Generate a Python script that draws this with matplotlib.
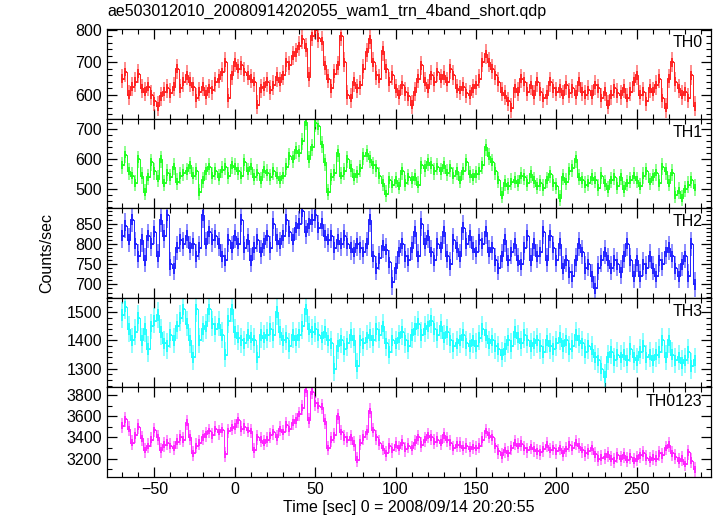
import numpy as np
import matplotlib
matplotlib.use('Agg')
import matplotlib.pyplot as plt
from matplotlib.ticker import MultipleLocator

plt.rcParams['font.family'] = ['Liberation Sans', 'DejaVu Sans']

# 2 s bins starting at t = -70 s
T0, DT = -70.0, 2.0

th0 = [650, 670, 600, 625, 640, 665, 620, 610, 625, 600, 580, 565, 595, 610, 620,
       605, 625, 680, 620, 640, 660, 640, 625, 590, 610, 625, 600, 620, 615, 640,
       650, 670, 700, 590, 660, 700, 680, 690, 670, 660, 650, 640, 570, 620, 625,
       640, 615, 630, 655, 640, 660, 700, 690, 720, 730, 750, 770, 745, 655, 780,
       800, 775, 765, 690, 650, 620, 665, 690, 780, 700, 600, 590, 640, 620, 630,
       680, 730, 770, 700, 660, 650, 735, 680, 640, 660, 620, 600, 630, 610, 595,
       570, 610, 650, 690, 640, 620, 660, 640, 670, 650, 660, 640, 680, 660, 620,
       615, 625, 605, 600, 620, 630, 650, 700, 725, 700, 680, 660, 640, 610, 600,
       580, 560, 620, 610, 650, 640, 610, 630, 600, 640, 610, 590, 600, 640, 620,
       610, 620, 600, 630, 605, 620, 600, 640, 610, 600, 615, 600, 630, 620, 590,
       610, 570, 600, 620, 605, 600, 620, 590, 610, 640, 660, 600, 610, 580, 620,
       610, 630, 650, 590, 560, 650, 700, 640, 620, 600, 610, 590, 660, 565]

th1 = [580, 615, 560, 545, 520, 600, 545, 490, 540, 590, 560, 535, 600, 520, 555,
       540, 575, 525, 545, 555, 560, 580, 545, 560, 490, 530, 560, 575, 545, 560,
       540, 565, 575, 545, 580, 575, 560, 545, 590, 560, 575, 540, 555, 530, 565,
       555, 540, 560, 545, 530, 545, 575, 610, 600, 630, 620, 660, 725, 600, 640,
       720, 710, 650, 590, 490, 540, 555, 620, 545, 560, 600, 570, 540, 550, 570,
       610, 620, 600, 580, 570, 545, 520, 485, 530, 515, 530, 510, 560, 520, 540,
       530, 540, 515, 580, 570, 590, 580, 560, 575, 560, 580, 555, 570, 545, 560,
       530, 560, 590, 550, 540, 550, 560, 580, 640, 610, 590, 560, 530, 480, 520,
       510, 525, 530, 520, 545, 540, 520, 550, 530, 510, 520, 505, 530, 550, 520,
       510, 470, 540, 525, 560, 570, 600, 540, 530, 515, 520, 540, 530, 505, 545,
       520, 500, 530, 540, 510, 540, 500, 520, 530, 545, 530, 510, 545, 560, 525,
       540, 555, 520, 575, 560, 520, 555, 480, 495, 470, 500, 515, 530, 505]

th2 = [820, 845, 810, 860, 800, 770, 810, 760, 820, 800, 830, 770, 860, 820, 870,
       750, 740, 790, 810, 800, 820, 790, 800, 770, 790, 870, 800, 830, 810, 820,
       800, 770, 760, 810, 790, 820, 800, 860, 790, 810, 760, 790, 810, 780, 800,
       820, 790, 850, 810, 800, 820, 860, 830, 810, 840, 850, 880, 830, 850, 860,
       870, 840, 850, 820, 810, 820, 790, 810, 800, 820, 800, 790, 780, 800, 790,
       780, 800, 860, 770, 740, 765, 795, 785, 755, 705, 740, 780, 800, 770, 760,
       790, 830, 770, 850, 800, 820, 780, 760, 800, 790, 830, 770, 750, 810, 790,
       770, 840, 800, 820, 790, 780, 810, 800, 830, 780, 790, 760, 740, 770, 810,
       760, 780, 800, 760, 750, 790, 820, 760, 800, 770, 780, 830, 760, 820, 790,
       760, 800, 740, 760, 730, 720, 760, 800, 780, 740, 750, 720, 690, 740, 760,
       780, 760, 740, 760, 750, 730, 770, 800, 760, 720, 760, 720, 750, 740, 770,
       740, 720, 760, 750, 780, 790, 770, 740, 720, 750, 770, 720, 800, 700]

th3 = [1490, 1520, 1440, 1400, 1430, 1480, 1400, 1440, 1370, 1450, 1470, 1490, 1430, 1390, 1380,
       1420, 1400, 1450, 1480, 1510, 1460, 1400, 1340, 1510, 1400, 1440, 1450, 1510, 1460, 1440,
       1460, 1420, 1350, 1470, 1510, 1430, 1410, 1400, 1390, 1420, 1410, 1400, 1340, 1420, 1410,
       1420, 1440, 1420, 1500, 1430, 1400, 1410, 1380, 1420, 1400, 1420, 1450, 1510, 1440, 1430,
       1440, 1420, 1410, 1430, 1400, 1390, 1300, 1380, 1400, 1370, 1390, 1420, 1400, 1310, 1400,
       1390, 1410, 1420, 1400, 1440, 1420, 1450, 1390, 1360, 1400, 1390, 1410, 1430, 1400, 1380,
       1420, 1440, 1460, 1420, 1440, 1450, 1470, 1440, 1420, 1450, 1410, 1430, 1400, 1380, 1390,
       1400, 1420, 1390, 1380, 1400, 1380, 1410, 1440, 1420, 1390, 1400, 1380, 1370, 1350, 1370,
       1400, 1380, 1430, 1410, 1390, 1420, 1400, 1380, 1390, 1400, 1380, 1360, 1400, 1380, 1370,
       1390, 1410, 1380, 1400, 1370, 1380, 1420, 1400, 1390, 1360, 1380, 1370, 1340, 1330, 1300,
       1270, 1340, 1360, 1330, 1350, 1340, 1350, 1330, 1370, 1340, 1330, 1360, 1380, 1340, 1350,
       1330, 1350, 1360, 1400, 1340, 1400, 1350, 1330, 1340, 1320, 1330, 1360, 1310, 1330]

th0123 = [3510, 3570, 3480, 3350, 3420, 3500, 3390, 3280, 3320, 3380, 3470, 3400, 3280, 3330, 3350,
          3320, 3300, 3360, 3400, 3380, 3540, 3400, 3250, 3320, 3350, 3400, 3430, 3460, 3420, 3480,
          3450, 3470, 3240, 3460, 3490, 3500, 3560, 3480, 3500, 3470, 3460, 3280, 3400, 3380, 3350,
          3380, 3420, 3450, 3400, 3480, 3450, 3520, 3480, 3540, 3560, 3620, 3680, 3850, 3560, 3830,
          3720, 3700, 3690, 3550, 3300, 3380, 3420, 3600, 3450, 3400, 3380, 3400, 3340, 3190, 3350,
          3400, 3450, 3650, 3470, 3400, 3350, 3300, 3250, 3320, 3280, 3330, 3300, 3350, 3290, 3320,
          3300, 3350, 3400, 3330, 3380, 3420, 3400, 3360, 3380, 3350, 3420, 3380, 3350, 3300, 3330,
          3330, 3300, 3320, 3290, 3310, 3300, 3320, 3380, 3460, 3420, 3400, 3320, 3270, 3230, 3280,
          3250, 3300, 3350, 3320, 3340, 3300, 3280, 3310, 3290, 3270, 3260, 3290, 3330, 3280, 3300,
          3270, 3300, 3250, 3290, 3330, 3300, 3350, 3320, 3280, 3250, 3270, 3300, 3240, 3200, 3210,
          3220, 3240, 3200, 3180, 3230, 3200, 3230, 3190, 3220, 3180, 3200, 3230, 3250, 3210, 3190,
          3210, 3200, 3250, 3230, 3300, 3330, 3250, 3220, 3180, 3200, 3150, 3260, 3180, 3100]

names = ['TH0', 'TH1', 'TH2', 'TH3', 'TH0123']
series = [th0, th1, th2, th3, th0123]
errs = [30, 28, 30, 45, 70]           # typical 1-sigma error bar half length
colors = ['#ff2020', '#20ff20', '#2020ff', '#20ffff', '#ff20ff']
ylims = [(527, 802), (436, 736), (667, 888), (1234, 1551), (3027, 3871)]
majors = [100, 100, 50, 100, 200]
minors = [20, 20, 10, 20, 100]

fig, axes = plt.subplots(5, 1, figsize=(7.17, 5.16), dpi=100, sharex=True)
fig.subplots_adjust(left=0.1492, right=0.9923, top=0.9438, bottom=0.0756, hspace=0)

for ax, name, v, e, c, yl, ma, mi in zip(axes, names, series, errs, colors, ylims, majors, minors):
    v = np.asarray(v, float)
    t = T0 + DT * np.arange(len(v))
    ax.errorbar(t, v, yerr=e, fmt='none', ecolor=c, elinewidth=1.3, alpha=0.55)
    ax.errorbar(t, v, yerr=e * 0.45, xerr=DT / 2, fmt='none', ecolor=c, elinewidth=1.3)
    ax.plot(t, v, drawstyle='steps-mid', color=c, lw=0.7)
    ax.set_ylim(*yl)
    ax.set_xlim(-79.5, 296.5)
    ax.yaxis.set_major_locator(MultipleLocator(ma))
    ax.yaxis.set_minor_locator(MultipleLocator(mi))
    ax.xaxis.set_major_locator(MultipleLocator(50))
    ax.xaxis.set_minor_locator(MultipleLocator(10))
    ax.tick_params(which='both', direction='in', top=True, right=True, labelsize=11.5)
    ax.tick_params(which='major', length=7, width=0.9)
    ax.tick_params(which='minor', length=3.5, width=0.8)
    for s in ax.spines.values():
        s.set_linewidth(0.9)
    ax.text(0.985, 0.93, name, transform=ax.transAxes, ha='right', va='top', fontsize=11.5)

axes[-1].set_xlabel('Time [sec] 0 = 2008/09/14 20:20:55', fontsize=11.5, labelpad=2)
fig.text(0.065, 0.51, 'Counts/sec', rotation=90, ha='center', va='center', fontsize=11.5)
fig.text(0.1492, 0.977, 'ae503012010_20080914202055_wam1_trn_4band_short.qdp',
         ha='left', va='center', fontsize=11.5)

fig.savefig('out.png', dpi=100)
